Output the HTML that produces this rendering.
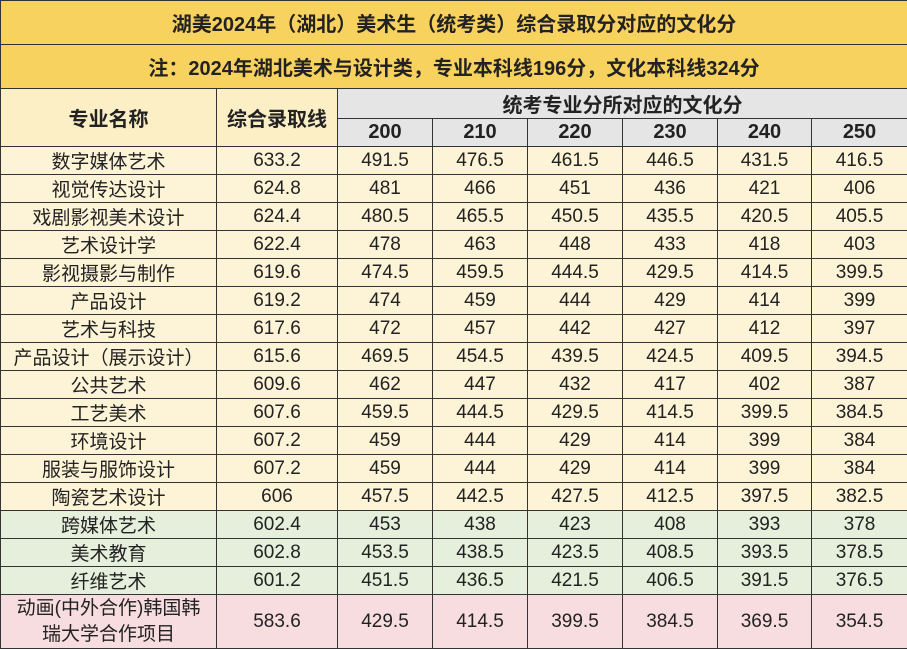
<!DOCTYPE html>
<html><head><meta charset="utf-8"><style>
html,body{margin:0;padding:0;background:#fff}
table{border-collapse:collapse;table-layout:fixed;width:907px;font-family:"Liberation Sans","Noto Sans CJK SC",sans-serif;font-size:19px;color:#222}
td{border:1px solid #333;text-align:center;padding:0;overflow:hidden;white-space:nowrap}
.t{background:#f8d25e;font-weight:bold;height:43px;font-size:20px}
.hl{background:#fcefc5;font-weight:bold;font-size:20px}
.hr{background:#e5e5e5;font-weight:bold;font-size:20px}
tr.y td{background:#fdf3d6}
tr.g td{background:#e5efdb}
tr.p td{background:#f8dde0}
tr.d td{height:27px}
</style></head><body>
<table>
<colgroup><col style="width:216px"><col style="width:121px"><col style="width:95px"><col style="width:95px"><col style="width:95px"><col style="width:95px"><col style="width:94px"><col style="width:96px"></colgroup>
<tr><td class="t" colspan="8">湖美2024年（湖北）美术生（统考类）综合录取分对应的文化分</td></tr>
<tr><td class="t" colspan="8">注：2024年湖北美术与设计类，专业本科线196分，文化本科线324分</td></tr>
<tr><td class="hl" rowspan="2">专业名称</td><td class="hl" rowspan="2">综合录取线</td><td class="hr" colspan="6" style="height:27px">统考专业分所对应的文化分</td></tr>
<tr><td class="hr" style="height:27px">200</td><td class="hr">210</td><td class="hr">220</td><td class="hr">230</td><td class="hr">240</td><td class="hr">250</td></tr>
<tr class="d y"><td>数字媒体艺术</td><td>633.2</td><td>491.5</td><td>476.5</td><td>461.5</td><td>446.5</td><td>431.5</td><td>416.5</td></tr>
<tr class="d y"><td>视觉传达设计</td><td>624.8</td><td>481</td><td>466</td><td>451</td><td>436</td><td>421</td><td>406</td></tr>
<tr class="d y"><td>戏剧影视美术设计</td><td>624.4</td><td>480.5</td><td>465.5</td><td>450.5</td><td>435.5</td><td>420.5</td><td>405.5</td></tr>
<tr class="d y"><td>艺术设计学</td><td>622.4</td><td>478</td><td>463</td><td>448</td><td>433</td><td>418</td><td>403</td></tr>
<tr class="d y"><td>影视摄影与制作</td><td>619.6</td><td>474.5</td><td>459.5</td><td>444.5</td><td>429.5</td><td>414.5</td><td>399.5</td></tr>
<tr class="d y"><td>产品设计</td><td>619.2</td><td>474</td><td>459</td><td>444</td><td>429</td><td>414</td><td>399</td></tr>
<tr class="d y"><td>艺术与科技</td><td>617.6</td><td>472</td><td>457</td><td>442</td><td>427</td><td>412</td><td>397</td></tr>
<tr class="d y"><td>产品设计（展示设计）</td><td>615.6</td><td>469.5</td><td>454.5</td><td>439.5</td><td>424.5</td><td>409.5</td><td>394.5</td></tr>
<tr class="d y"><td>公共艺术</td><td>609.6</td><td>462</td><td>447</td><td>432</td><td>417</td><td>402</td><td>387</td></tr>
<tr class="d y"><td>工艺美术</td><td>607.6</td><td>459.5</td><td>444.5</td><td>429.5</td><td>414.5</td><td>399.5</td><td>384.5</td></tr>
<tr class="d y"><td>环境设计</td><td>607.2</td><td>459</td><td>444</td><td>429</td><td>414</td><td>399</td><td>384</td></tr>
<tr class="d y"><td>服装与服饰设计</td><td>607.2</td><td>459</td><td>444</td><td>429</td><td>414</td><td>399</td><td>384</td></tr>
<tr class="d y"><td>陶瓷艺术设计</td><td>606</td><td>457.5</td><td>442.5</td><td>427.5</td><td>412.5</td><td>397.5</td><td>382.5</td></tr>
<tr class="d g"><td>跨媒体艺术</td><td>602.4</td><td>453</td><td>438</td><td>423</td><td>408</td><td>393</td><td>378</td></tr>
<tr class="d g"><td>美术教育</td><td>602.8</td><td>453.5</td><td>438.5</td><td>423.5</td><td>408.5</td><td>393.5</td><td>378.5</td></tr>
<tr class="d g"><td>纤维艺术</td><td>601.2</td><td>451.5</td><td>436.5</td><td>421.5</td><td>406.5</td><td>391.5</td><td>376.5</td></tr>
<tr class="p"><td style="height:53px;white-space:normal;line-height:26px">动画(中外合作)韩国韩<br>瑞大学合作项目</td><td>583.6</td><td>429.5</td><td>414.5</td><td>399.5</td><td>384.5</td><td>369.5</td><td>354.5</td></tr>
</table>
</body></html>
